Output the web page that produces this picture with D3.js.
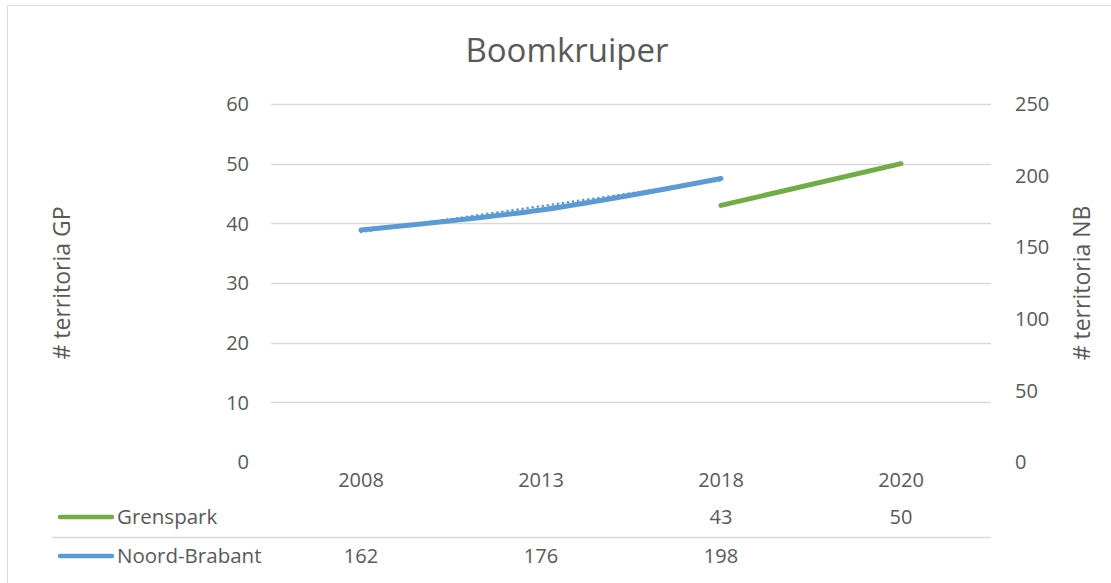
<!DOCTYPE html>
<html>
<head>
<meta charset="utf-8">
<script src="https://cdn.jsdelivr.net/npm/d3@7"></script>
<style>
  body { margin: 0; background: #fff; }
  text { font-family: "Open Sans", sans-serif; fill: #595959; }
</style>
</head>
<body>
<div id="chart"></div>
<script>
const years = ["2008", "2013", "2018", "2020"];
const grenspark = [null, null, 43, 50];
const noordBrabant = [162, 176, 198, null];
const leftTicks = [0, 10, 20, 30, 40, 50, 60];
const rightTicks = [0, 50, 100, 150, 200, 250];

const width = 1111, height = 583;
const green = "#70AD47", blue = "#5B9BD5", grid = "#D9D9D9";

const svg = d3.select("#chart").append("svg")
    .attr("width", width)
    .attr("height", height);

// chart border
svg.append("rect")
    .attr("x", 7.5).attr("y", 5.5)
    .attr("width", width).attr("height", height)
    .attr("fill", "none")
    .attr("stroke", grid);

const x = d3.scaleBand().domain(years).range([271, 991]);
const yL = d3.scaleLinear().domain([0, 60]).range([462, 104]);
const yR = d3.scaleLinear().domain([0, 250]).range([462, 104]);

svg.append("text")
    .attr("x", 567).attr("y", 62)
    .attr("text-anchor", "middle")
    .style("font-size", "33px")
    .text("Boomkruiper");

// gridlines
svg.append("g").selectAll("line")
    .data(leftTicks.filter(d => d > 0))
    .enter().append("line")
    .attr("x1", 271).attr("x2", 991)
    .attr("y1", d => Math.round(yL(d)) + 0.5)
    .attr("y2", d => Math.round(yL(d)) + 0.5)
    .attr("stroke", grid)
    .attr("stroke-width", 1.3);

svg.append("g").selectAll("text")
    .data(leftTicks)
    .enter().append("text")
    .attr("x", 249)
    .attr("y", d => yL(d))
    .attr("dy", "0.36em")
    .attr("text-anchor", "end")
    .style("font-size", "20px")
    .text(d => d);

svg.append("g").selectAll("text")
    .data(rightTicks)
    .enter().append("text")
    .attr("x", 1015)
    .attr("y", d => yR(d))
    .attr("dy", "0.36em")
    .style("font-size", "20px")
    .text(d => d);

svg.append("text")
    .attr("transform", "translate(62,283) rotate(-90)")
    .attr("text-anchor", "middle")
    .attr("dy", "0.36em")
    .style("font-size", "23px")
    .text("# territoria GP");

svg.append("text")
    .attr("transform", "translate(1082,283) rotate(-90)")
    .attr("text-anchor", "middle")
    .attr("dy", "0.36em")
    .style("font-size", "23px")
    .text("# territoria NB");

const cx = d => x(d) + x.bandwidth() / 2;

// linear trendline for Noord-Brabant (dotted)
const pts = noordBrabant.map((v, i) => ({ i, v })).filter(p => p.v != null);
const mx = d3.mean(pts, p => p.i), my = d3.mean(pts, p => p.v);
const slope = d3.sum(pts, p => (p.i - mx) * (p.v - my)) / d3.sum(pts, p => (p.i - mx) ** 2);
const trend = i => my + slope * (i - mx);
const i0 = pts[0].i, i1 = pts[pts.length - 1].i;
svg.append("line")
    .attr("x1", cx(years[i0])).attr("y1", yR(trend(i0)))
    .attr("x2", cx(years[i1])).attr("y2", yR(trend(i1)))
    .attr("stroke", blue)
    .attr("stroke-width", 2.5)
    .attr("stroke-linecap", "round")
    .attr("stroke-dasharray", "0.1,5");

const lineNB = d3.line()
    .defined(d => d.v != null)
    .x(d => cx(d.year))
    .y(d => yR(d.v))
    .curve(d3.curveCatmullRom.alpha(0.5));

const lineGP = d3.line()
    .defined(d => d.v != null)
    .x(d => cx(d.year))
    .y(d => yL(d.v))
    .curve(d3.curveCatmullRom.alpha(0.5));

svg.append("path")
    .datum(years.map((y, i) => ({ year: y, v: noordBrabant[i] })))
    .attr("d", lineNB)
    .attr("fill", "none")
    .attr("stroke", blue)
    .attr("stroke-width", 5)
    .attr("stroke-linecap", "round");

svg.append("path")
    .datum(years.map((y, i) => ({ year: y, v: grenspark[i] })))
    .attr("d", lineGP)
    .attr("fill", "none")
    .attr("stroke", green)
    .attr("stroke-width", 5)
    .attr("stroke-linecap", "round");

// data table
svg.append("g").selectAll("text")
    .data(years)
    .enter().append("text")
    .attr("x", d => cx(d))
    .attr("y", 480)
    .attr("dy", "0.36em")
    .attr("text-anchor", "middle")
    .style("font-size", "20px")
    .text(d => d);

svg.append("line")
    .attr("x1", 52).attr("x2", 991)
    .attr("y1", 537.5).attr("y2", 537.5)
    .attr("stroke", grid)
    .attr("stroke-width", 1.3);

const rows = [
    { name: "Grenspark", values: grenspark, color: green, y: 517 },
    { name: "Noord-Brabant", values: noordBrabant, color: blue, y: 556 }
];

rows.forEach(r => {
    svg.append("line")
        .attr("x1", 60).attr("x2", 112)
        .attr("y1", r.y).attr("y2", r.y)
        .attr("stroke", r.color)
        .attr("stroke-width", 4.5)
        .attr("stroke-linecap", "round");
    svg.append("text")
        .attr("x", 117).attr("y", r.y)
        .attr("dy", "0.36em")
        .style("font-size", "20.5px")
        .text(r.name);
    svg.append("g").selectAll("text")
        .data(years.map((y, i) => ({ year: y, v: r.values[i] })).filter(d => d.v != null))
        .enter().append("text")
        .attr("x", d => cx(d.year))
        .attr("y", r.y)
        .attr("dy", "0.36em")
        .attr("text-anchor", "middle")
        .style("font-size", "20px")
        .text(d => d.v);
});
</script>
</body>
</html>
